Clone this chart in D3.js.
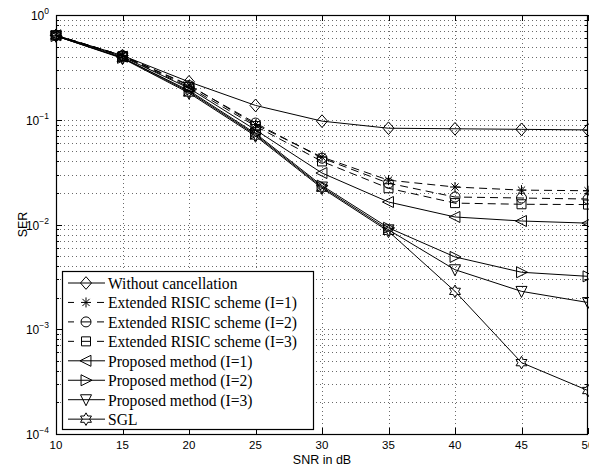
<!DOCTYPE html>
<html>
<head>
<meta charset="utf-8">
<script src="https://cdn.jsdelivr.net/npm/d3@7"></script>
<style>
  html, body { margin: 0; padding: 0; background: #fff; overflow: hidden; }
  svg { display: block; }
</style>
</head>
<body>
<svg id="chart" width="589" height="467"></svg>
<script>
// ---------------- DATA ----------------
const snr = [10, 15, 20, 25, 30, 35, 40, 45, 50];
const withoutCancellation = [0.64, 0.41, 0.23, 0.137, 0.097, 0.083, 0.082, 0.081, 0.080];
const risic1 = [0.64, 0.41, 0.215, 0.090, 0.044, 0.0265, 0.0228, 0.0213, 0.0210];
const risic2 = [0.64, 0.41, 0.212, 0.093, 0.043, 0.0248, 0.0183, 0.0179, 0.0175];
const risic3 = [0.64, 0.405, 0.205, 0.087, 0.040, 0.0222, 0.0160, 0.0156, 0.0155];
const proposed1 = [0.64, 0.40, 0.20, 0.080, 0.031, 0.0164, 0.0118, 0.0108, 0.0103];
const proposed2 = [0.63, 0.39, 0.19, 0.074, 0.0235, 0.0093, 0.0049, 0.0035, 0.0032];
const proposed3 = [0.63, 0.39, 0.185, 0.072, 0.0228, 0.0089, 0.0037, 0.0023, 0.0018];
const sgl = [0.63, 0.385, 0.18, 0.070, 0.0222, 0.0086, 0.0023, 0.00048, 0.00026];

const seriesNames = [
  "Without cancellation",
  "Extended RISIC scheme (I=1)",
  "Extended RISIC scheme (I=2)",
  "Extended RISIC scheme (I=3)",
  "Proposed method (I=1)",
  "Proposed method (I=2)",
  "Proposed method (I=3)",
  "SGL"
];
const seriesValues = [withoutCancellation, risic1, risic2, risic3, proposed1, proposed2, proposed3, sgl];
const seriesMarkers = ["diamond", "asterisk", "circle", "square", "triLeft", "triRight", "triDown", "hexagram"];
const seriesDashed = [false, true, true, true, false, false, false, false];

const xTicks = [10, 15, 20, 25, 30, 35, 40, 45, 50];
const yExponents = [0, -1, -2, -3, -4];
const xLabel = "SNR in dB";
const yLabel = "SER";

// ---------------- LAYOUT ----------------
const M = { left: 56, right: 588, top: 15, bottom: 434 };
const svg = d3.select("#chart");

const x = d3.scaleLinear().domain([10, 50]).range([M.left, M.right]);
const y = d3.scaleLog().domain([1e-4, 1]).range([M.bottom, M.top]);

// grid values
const minorY = [];
for (let e = -4; e < 0; e++) {
  for (let k = 1; k <= 9; k++) minorY.push(k * Math.pow(10, e));
}
minorY.push(1);

const grid = svg.append("g").attr("stroke", "#444").attr("stroke-width", 0.8)
  .attr("stroke-dasharray", "1,3").attr("fill", "none");
grid.selectAll(".gy").data(minorY.filter(v => v > 1e-4 && v < 1)).enter().append("line")
  .attr("x1", M.left).attr("x2", M.right)
  .attr("y1", d => Math.round(y(d)) + 0.5).attr("y2", d => Math.round(y(d)) + 0.5);
grid.selectAll(".gx").data(xTicks.filter(v => v > 10 && v < 50)).enter().append("line")
  .attr("y1", M.top).attr("y2", M.bottom)
  .attr("x1", d => Math.round(x(d)) + 0.5).attr("x2", d => Math.round(x(d)) + 0.5);

// ticks (inside, all four sides)
const ticks = svg.append("g").attr("stroke", "#000").attr("stroke-width", 1);
minorY.forEach(v => {
  const isMajor = Math.abs(Math.log10(v) - Math.round(Math.log10(v))) < 1e-9;
  const len = isMajor ? 6 : 3;
  const yy = Math.round(y(v)) + 0.5;
  ticks.append("line").attr("x1", M.left).attr("x2", M.left + len).attr("y1", yy).attr("y2", yy);
  ticks.append("line").attr("x1", M.right - len).attr("x2", M.right).attr("y1", yy).attr("y2", yy);
});
xTicks.forEach(v => {
  const xx = Math.round(x(v)) + 0.5;
  ticks.append("line").attr("x1", xx).attr("x2", xx).attr("y1", M.bottom).attr("y2", M.bottom - 6);
  ticks.append("line").attr("x1", xx).attr("x2", xx).attr("y1", M.top).attr("y2", M.top + 6);
});

// frame
svg.append("rect").attr("x", M.left + 0.5).attr("y", M.top + 0.5)
  .attr("width", M.right - M.left - 1).attr("height", M.bottom - M.top)
  .attr("fill", "none").attr("stroke", "#000").attr("stroke-width", 1.2);

// tick labels
const tickFont = "Liberation Sans, Arial, Helvetica, sans-serif";
svg.append("g").selectAll("text").data(xTicks).enter().append("text")
  .attr("x", d => x(d)).attr("y", 449)
  .attr("text-anchor", "middle").attr("font-family", tickFont).attr("font-size", 11.5)
  .text(d => d);

const yl = svg.append("g");
yExponents.forEach(e => {
  const t = yl.append("text").attr("x", 49).attr("y", y(Math.pow(10, e)) + 5)
    .attr("text-anchor", "end").attr("font-family", tickFont).attr("font-size", 12);
  t.append("tspan").text("10");
  t.append("tspan").attr("dy", -6).attr("font-size", 8.5).text(e === 0 ? "0" : "\u2212" + Math.abs(e));
});

// axis labels
svg.append("text").attr("x", (M.left + M.right) / 2).attr("y", 464)
  .attr("text-anchor", "middle").attr("font-family", tickFont).attr("font-size", 12.5).text(xLabel);
svg.append("text").attr("transform", `translate(27, ${(M.top + M.bottom) / 2}) rotate(-90)`)
  .attr("text-anchor", "middle").attr("font-family", tickFont).attr("font-size", 12.5).text(yLabel);

// ---------------- MARKERS ----------------
function markerPath(type, s) {
  switch (type) {
    case "diamond":
      return `M0,${-s * 1.15}L${s},0L0,${s * 1.15}L${-s},0Z`;
    case "circle":
      return `M${-s},0A${s},${s} 0 1,0 ${s},0A${s},${s} 0 1,0 ${-s},0Z`;
    case "square":
      return `M${-s},${-s}H${s}V${s}H${-s}Z`;
    case "triLeft":
      return `M${-s * 1.1},0L${s * 0.9},${-s}L${s * 0.9},${s}Z`;
    case "triRight":
      return `M${s * 1.1},0L${-s * 0.9},${-s}L${-s * 0.9},${s}Z`;
    case "triDown":
      return `M0,${s * 1.1}L${-s},${-s * 0.9}L${s},${-s * 0.9}Z`;
    case "asterisk": {
      const a = s * 0.72;
      return `M${-s},0H${s}M0,${-s}V${s}M${-a},${-a}L${a},${a}M${-a},${a}L${a},${-a}`;
    }
    case "hexagram": {
      const pts = [];
      for (let i = 0; i < 12; i++) {
        const r = i % 2 === 0 ? s * 1.05 : s * 0.6;
        const ang = -Math.PI / 2 + i * Math.PI / 6;
        pts.push([r * Math.cos(ang), r * Math.sin(ang)]);
      }
      return "M" + pts.map(p => p[0].toFixed(2) + "," + p[1].toFixed(2)).join("L") + "Z";
    }
  }
}
const markerSize = { diamond: 5.5, circle: 5, square: 4.5, triLeft: 5.5, triRight: 5.5, triDown: 5.5, asterisk: 5, hexagram: 6 };

// ---------------- SERIES ----------------
const plot = svg.append("g");
const line = d3.line().x(d => x(d[0])).y(d => y(d[1]));
seriesValues.forEach((vals, i) => {
  const pts = snr.map((s, j) => [s, vals[j]]);
  plot.append("path").attr("d", line(pts))
    .attr("fill", "none").attr("stroke", "#000").attr("stroke-width", 1)
    .attr("stroke-dasharray", seriesDashed[i] ? "8,5" : null);
  plot.selectAll(null).data(pts).enter().append("path")
    .attr("transform", d => `translate(${x(d[0])},${y(d[1])})`)
    .attr("d", markerPath(seriesMarkers[i], markerSize[seriesMarkers[i]]))
    .attr("fill", "none").attr("stroke", "#000").attr("stroke-width", 1);
});

// ---------------- LEGEND ----------------
const lg = svg.append("g");
lg.append("rect").attr("x", 62.5).attr("y", 271.5).attr("width", 251).attr("height", 158)
  .attr("fill", "#fff").attr("stroke", "#000").attr("stroke-width", 1.2);
seriesNames.forEach((name, i) => {
  const cy = 283 + i * 19.45;
  if (seriesDashed[i]) {
    lg.append("line").attr("x1", 68).attr("x2", 74).attr("y1", cy).attr("y2", cy)
      .attr("stroke", "#000").attr("stroke-width", 1);
    lg.append("line").attr("x1", 97).attr("x2", 104).attr("y1", cy).attr("y2", cy)
      .attr("stroke", "#000").attr("stroke-width", 1);
  } else {
    lg.append("line").attr("x1", 68).attr("x2", 105).attr("y1", cy).attr("y2", cy)
      .attr("stroke", "#000").attr("stroke-width", 1);
  }
  const mt = seriesMarkers[i];
  let path = markerPath(mt, markerSize[mt]);
  lg.append("path").attr("transform", `translate(86,${cy})`).attr("d", path)
    .attr("fill", seriesDashed[i] ? "#fff" : "none").attr("stroke", "#000").attr("stroke-width", 1);
  if (mt === "circle" || mt === "square") {
    lg.append("line").attr("x1", 86 - markerSize[mt]).attr("x2", 86 + markerSize[mt])
      .attr("y1", cy).attr("y2", cy).attr("stroke", "#000").attr("stroke-width", 1);
  }
  lg.append("text").attr("transform", `translate(108, ${cy + 6}) scale(0.89, 1)`)
    .attr("font-family", "Liberation Serif, Times New Roman, serif").attr("font-size", 17.5)
    .text(name);
});
</script>
</body>
</html>
